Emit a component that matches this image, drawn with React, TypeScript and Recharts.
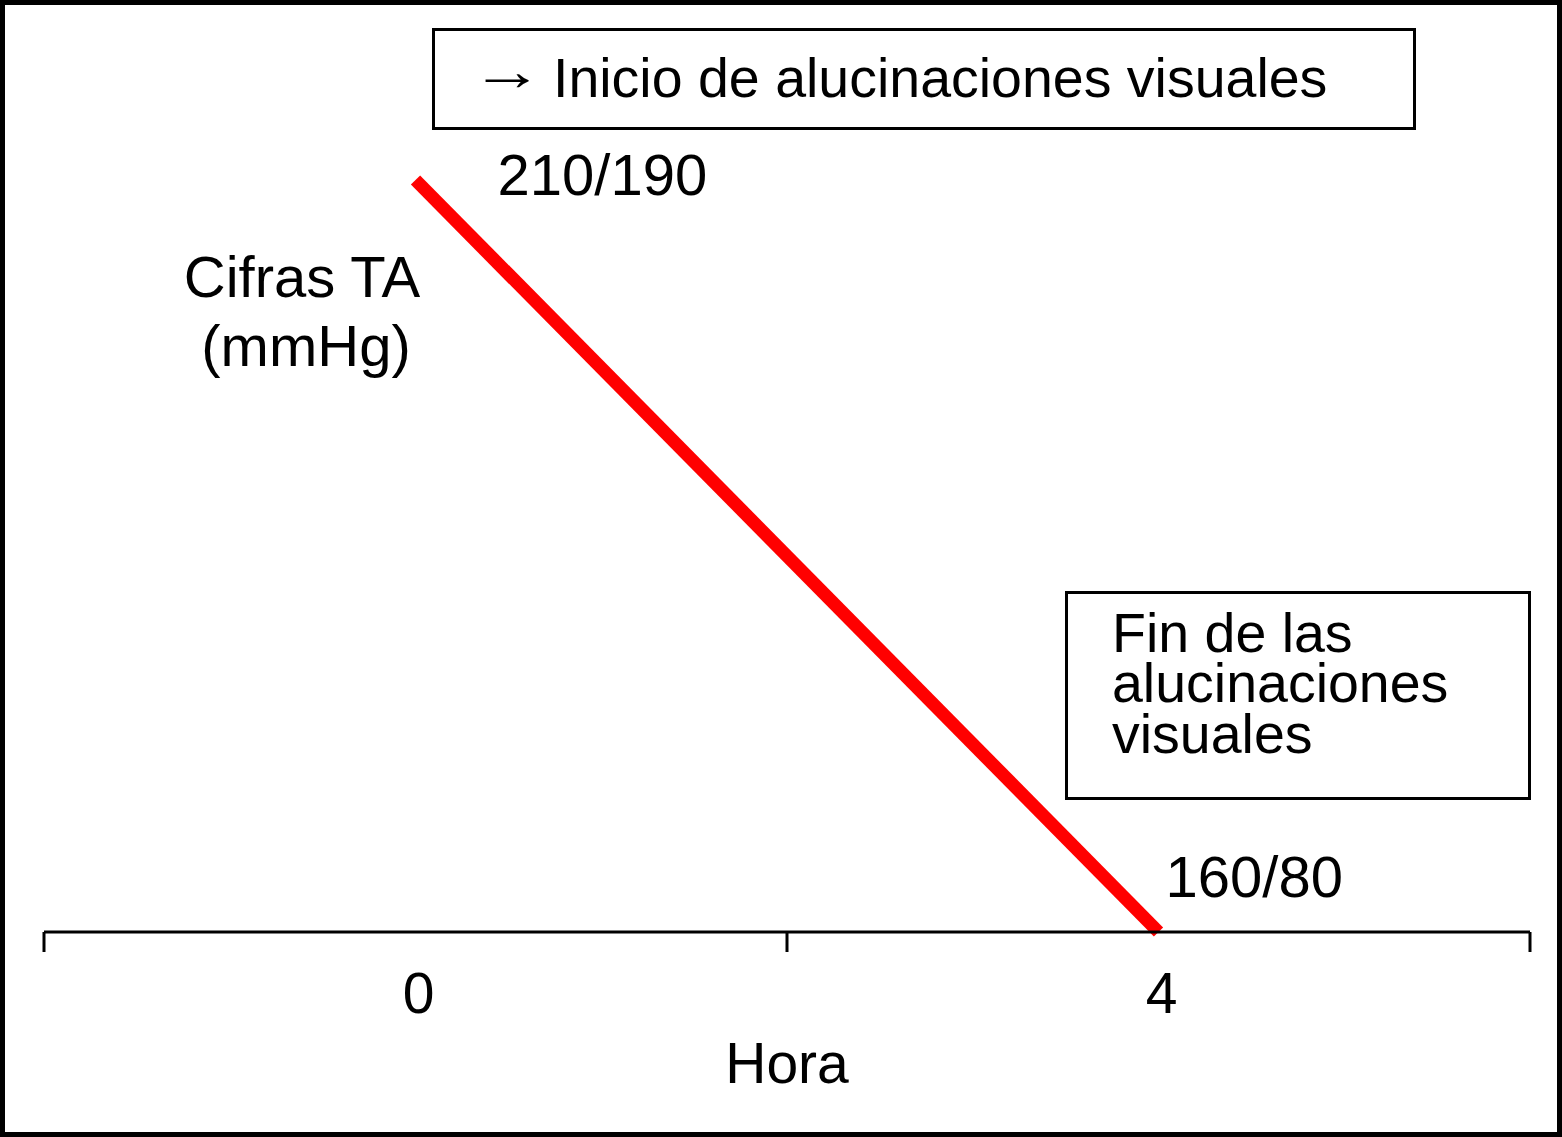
import React from 'react';
import { ComposedChart, Line, XAxis, YAxis, LabelList } from 'recharts';

// datos
const horas = ['0', '4'];
const sistolica = [210, 160];
const cifrasTA = ['210/190', '160/80'];

const data = horas.map((hora, i) => ({ hora, ta: sistolica[i], cifra: cifrasTA[i] }));

const WIDTH = 1562;
const HEIGHT = 1137;
const MARGIN = { top: 180, right: 32, bottom: 5, left: 44 };
const FONT = '"Liberation Sans", Arial, Helvetica, sans-serif';

// posición de cada etiqueta respecto a su punto
const labelOffsets = [
  { dx: 82, dy: 15 },
  { dx: 7, dy: -35 },
];

const halfBand = (WIDTH - MARGIN.left - MARGIN.right) / (horas.length * 2);

const HoraTick = (props: any) => {
  const { x, y, payload, index, visibleTicksCount } = props;
  const last = index === visibleTicksCount - 1;
  return (
    <g>
      <line x1={x - halfBand} y1={y} x2={x - halfBand} y2={y + 20} stroke="#000" strokeWidth={3} />
      {last && <line x1={x + halfBand} y1={y} x2={x + halfBand} y2={y + 20} stroke="#000" strokeWidth={3} />}
      <text x={x + 3} y={y + 81} textAnchor="middle" fontSize={57} fontFamily={FONT} fill="#000">
        {payload.value}
      </text>
    </g>
  );
};

const CifraLabel = (props: any) => {
  const { x, y, value, index } = props;
  const off = labelOffsets[index] || { dx: 0, dy: 0 };
  return (
    <text x={x + off.dx} y={y + off.dy} fontSize={58} fontFamily={FONT} fill="#000">
      {value}
    </text>
  );
};

export default function App() {
  return (
    <div style={{ position: 'absolute', left: 0, top: 0, background: '#fff' }}>
      <ComposedChart width={WIDTH} height={HEIGHT} data={data} margin={MARGIN}>
        <XAxis
          dataKey="hora"
          height={200}
          padding={{ left: halfBand, right: halfBand }}
          tickLine={false}
          tickSize={0}
          tickMargin={0}
          axisLine={{ stroke: '#000', strokeWidth: 3 }}
          tick={<HoraTick />}
          interval={0}
          label={{ value: 'Hora', position: 'insideBottom', offset: 49, fontSize: 57, fontFamily: FONT, fill: '#000' }}
        />
        <YAxis hide width={0} domain={[160, 210]} />
        <Line
          dataKey="ta"
          type="linear"
          stroke="#ff0000"
          strokeWidth={13}
          dot={false}
          activeDot={false}
          isAnimationActive={false}
        >
          <LabelList dataKey="cifra" content={<CifraLabel />} />
        </Line>

        <g fontFamily={FONT} fill="#000">
          <rect x={2.5} y={2.5} width={WIDTH - 5} height={HEIGHT - 5} fill="none" stroke="#000" strokeWidth={5} />

          <text x={302} y={297} fontSize={58} textAnchor="middle">Cifras TA</text>
          <text x={306} y={366} fontSize={58} textAnchor="middle">(mmHg)</text>

          <rect x={433.5} y={29.5} width={981} height={99} fill="none" stroke="#000" strokeWidth={3} />
          <text x={471} y={90} fontSize={56} transform="translate(471 0) scale(1.3 1) translate(-471 0)">→</text>
          <text x={553} y={97} fontSize={55.5}>Inicio de alucinaciones visuales</text>

          <rect x={1066.5} y={592.5} width={463} height={206} fill="none" stroke="#000" strokeWidth={3} />
          <text x={1112} y={652} fontSize={55.5}>Fin de las</text>
          <text x={1112} y={702} fontSize={55.5}>alucinaciones</text>
          <text x={1112} y={753} fontSize={55.5}>visuales</text>
        </g>
      </ComposedChart>
    </div>
  );
}
